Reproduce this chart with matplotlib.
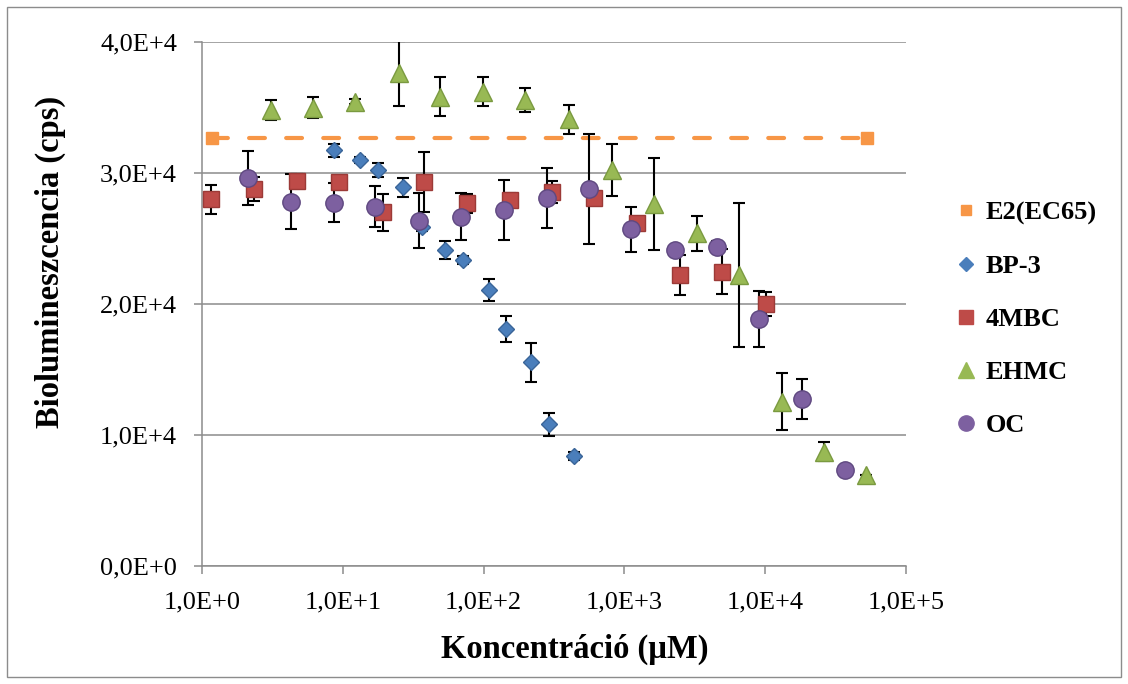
import matplotlib
matplotlib.use("Agg")
import matplotlib.pyplot as plt
from matplotlib.lines import Line2D
from matplotlib.patches import Rectangle

plt.rcParams["font.family"] = ["Liberation Serif", "DejaVu Serif"]

# E2 (EC65) reference level, drawn as a dashed line between two points
e2_x = [1.18, 52500]
e2_y = [32700, 32700]

bp3_x = [8.7, 13.3, 17.8, 26.6, 36.5, 53.5, 71.5, 108.7, 144.5, 217.7, 290.5, 437.5]
bp3_y = [31750, 31000, 30230, 28900, 25900, 24120, 23360, 21070, 18090, 15550, 10810, 8400]
bp3_err = [500, 250, 550, 700, 300, 700, 300, 850, 1000, 1500, 850, 300]

mbc_x = [1.16, 2.34, 4.71, 9.43, 19.2, 37.5, 76.3, 153, 307, 607, 1236, 2483, 4967, 10100]
mbc_y = [27990, 28780, 29390, 29290, 27000, 29340, 27680, 27940, 28570, 28070, 26160, 22210, 22470, 19980]
mbc_err = [1100, 950, 500, 300, 1400, 2300, 700, 500, 850, 400, 500, 1500, 1700, 900]

ehmc_x = [3.1, 6.19, 12.2, 24.9, 49.3, 99.2, 198, 403, 811, 1622, 3262, 6521, 13120, 26240, 52000]
ehmc_y = [34810, 34990, 35450, 37610, 35830, 36210, 35570, 34100, 30230, 27630, 25400, 22210, 12540, 8730, 6950]
ehmc_err = [760, 800, 200, 2500, 1500, 1080, 900, 1100, 1950, 3500, 1340, 5470, 2160, 700, 0]

oc_x = [2.13, 4.27, 8.59, 17, 34.5, 69.2, 139, 280, 559, 1119, 2276, 4529, 9054, 18400, 36990]
oc_y = [29640, 27810, 27730, 27430, 26340, 26670, 27180, 28070, 28780, 25700, 24120, 24380, 18860, 12750, 7330]
oc_err = [2070, 2080, 1500, 1560, 2100, 1780, 2300, 2300, 4200, 1700, 300, 400, 2150, 1500, 0]

x_ticks = [1, 10, 100, 1000, 10000, 100000]
x_labels = ["1,0E+0", "1,0E+1", "1,0E+2", "1,0E+3", "1,0E+4", "1,0E+5"]
y_ticks = [0, 10000, 20000, 30000, 40000]
y_labels = ["0,0E+0", "1,0E+4", "2,0E+4", "3,0E+4", "4,0E+4"]

c_e2 = "#f79646"
c_bp3 = "#4a7ebb"
c_mbc = "#be4b48"
c_ehmc = "#98b954"
c_oc = "#7d60a0"
grid_c = "#8c8c8c"

fig = plt.figure(figsize=(11.28, 6.84), dpi=100)
ax = fig.add_axes([0.1791, 0.1725, 0.6241, 0.7661])

ax.plot(e2_x, e2_y, color=c_e2, lw=3, dashes=(3.8, 5.1), dash_capstyle="round",
        marker="s", ms=8, mec=c_e2, zorder=3)

eb = dict(ecolor="black", elinewidth=1.5, capsize=4, capthick=1.5, ls="none")
ax.errorbar(bp3_x, bp3_y, yerr=bp3_err, fmt="D", ms=8, color=c_bp3, mec="#3a6598", zorder=4, **eb)
ax.errorbar(mbc_x, mbc_y, yerr=mbc_err, fmt="s", ms=11, color=c_mbc, mec="#9c3a37", zorder=4, **eb)
ax.errorbar(ehmc_x, ehmc_y, yerr=ehmc_err, fmt="^", ms=13, color=c_ehmc, mec="#7a9a40", zorder=4, **eb)
ax.errorbar(oc_x, oc_y, yerr=oc_err, fmt="o", ms=12.5, color=c_oc, mec="#5f4880", zorder=4, **eb)

ax.set_xscale("log")
ax.set_xlim(1, 1e5)
ax.set_ylim(0, 40000)
ax.set_xticks(x_ticks, x_labels)
ax.xaxis.set_minor_locator(matplotlib.ticker.NullLocator())
ax.set_yticks(y_ticks, y_labels)
ax.tick_params(labelsize=19, length=6, width=1.1, color=grid_c, pad=12)
ax.grid(axis="y", color=grid_c, lw=1.1)
ax.set_axisbelow(True)
for s in ["top", "right"]:
    ax.spines[s].set_visible(False)
for s in ["left", "bottom"]:
    ax.spines[s].set_color(grid_c)
    ax.spines[s].set_linewidth(1.1)

fig.text(575 / 1128, 1 - 649 / 684, "Koncentráció (µM)", ha="center", va="center",
         fontsize=23.5, fontweight="bold")
fig.text(50 / 1128, 1 - 262 / 684, "Biolumineszcencia (cps)", ha="center", va="center",
         rotation=90, fontsize=23.5, fontweight="bold")

handles = [
    Line2D([], [], ls="none", marker="s", ms=7, color=c_e2),
    Line2D([], [], ls="none", marker="D", ms=7, color=c_bp3),
    Line2D([], [], ls="none", marker="s", ms=10, color=c_mbc),
    Line2D([], [], ls="none", marker="^", ms=12, color=c_ehmc),
    Line2D([], [], ls="none", marker="o", ms=11, color=c_oc),
]
labels = ["E2(EC65)", "BP-3", "4MBC", "EHMC", "OC"]
fig.legend(handles, labels, loc="upper left", bbox_to_anchor=(958 / 1128, 1 - 201 / 684),
           frameon=False, handlelength=0.6, handletextpad=0.45, labelspacing=1.12,
           borderpad=0, borderaxespad=0, prop={"size": 19, "weight": "bold"})

fig.add_artist(Rectangle((7 / 1128, 7 / 684), 1114 / 1128, 670 / 684, transform=fig.transFigure,
                         fill=False, edgecolor="#8c8c8c", lw=1))

fig.savefig("out.png", dpi=100)
